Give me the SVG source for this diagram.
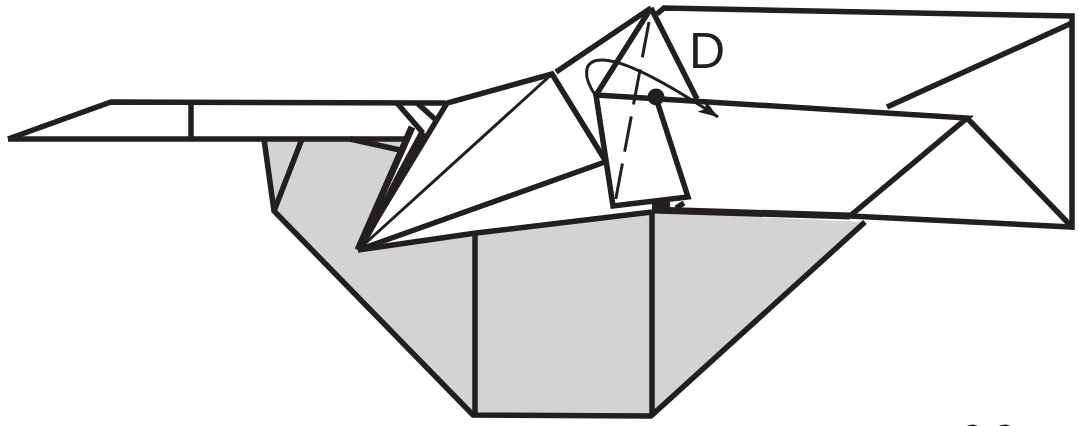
<svg xmlns="http://www.w3.org/2000/svg" width="1079" height="426" viewBox="0 0 1079 426">
<style>
.l{fill:none;stroke:#231f20;stroke-width:5.5;stroke-linejoin:miter;stroke-linecap:butt}
.t{fill:none;stroke:#231f20;stroke-width:7;stroke-linejoin:miter}
.m{fill:none;stroke:#231f20;stroke-width:3}
.g{fill:#d1d3d4;stroke:none}
.w{fill:#fff;stroke:none}
text{font-family:"Liberation Sans",Arial,sans-serif;fill:#231f20}
</style>
<defs><marker id="a" markerUnits="userSpaceOnUse" markerWidth="24" markerHeight="16" refX="20" refY="7" orient="auto"><path d="M0 0L20 7L0 14L5 7Z" fill="#231f20"/></marker></defs>
<g id="grey-base">
<path class="g" d="M264 139L274 211L473 415L651 416L865 222L650 212L476 233L358 250L402 139Z"/>
</g>
<g id="folded-paper">
<path class="w" d="M8 139L111 102L400 102L445 103L552 74L652 8L664 8L1072 16L1072 227L850 216L690 208L612 206L358 250L410 139Z"/>
</g>
<g id="connectors">
<path class="l" d="M8 139L111 102L445 103"/>
<path class="l" d="M8 139L404 139"/>
<path class="l" d="M191 102V139"/>
<path class="l" d="M264 139L274 211L473 415L651 416L865 222"/>
<path class="l" d="M302 139L274 211"/>
<path class="l" d="M350 139L400 150"/>
<path class="l" d="M475 415V233"/>
<path class="l" d="M652 416V212"/>
<path class="l" d="M358 250L476 233L652 212"/>
<path class="t" d="M652 210L850 216"/>
<path class="l" d="M850 216L1072 227L1072 16L664 8L657 14"/>
<path class="l" d="M358 250L447 103L552 74L605 160"/>
<path class="t" d="M358 250L412 127"/>
<path class="t" d="M360 248L423 132"/>
<path class="w" d="M384 198L412 137L415 137L390 186Z"/>
<path class="l" d="M397 103L423 133"/>
<path class="l" d="M417 103L436 120"/>
<path class="l" d="M358 250L605 162"/>
<path class="m" d="M358 250L552 74"/>
<path class="l" d="M556 72L651 8L596 95L613 206L688 197L656 98"/>
<path class="l" d="M651 8L697 99"/>
<path class="l" d="M596 95L967 118L850 216"/>
<path class="l" d="M967 118L1072 227"/>
<path class="l" d="M887 107L1072 23"/>
<path class="l" d="M652 206L670 204M676 208L684 203"/>
<path class="m" stroke-dasharray="36 12" d="M649 22L615 203"/>
<path class="m" marker-end="url(#a)" d="M596 96C583 78 582 60 602 60C625 60 670 85 718 117"/>
<circle cx="656" cy="97" r="8.5" fill="#231f20"/>
<path fill="#231f20" d="M967 426Q973 423 978 426ZM999 426Q1005 423 1011 426Z"/>
</g>
<text x="689" y="68" font-size="50">D</text>
</svg>
